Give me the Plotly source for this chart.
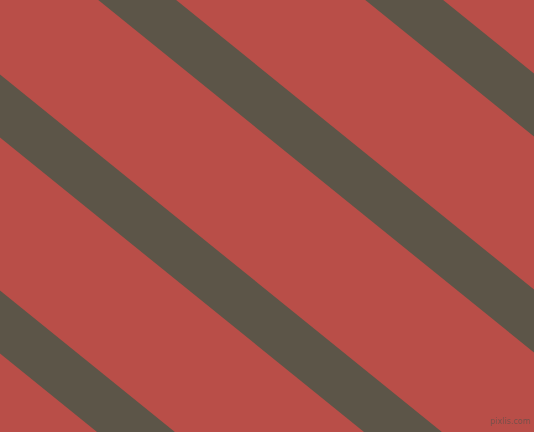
import plotly.graph_objects as go

# picture size in pixels, stripes run parallel to the diagonal
width = 534
height = 432
slope = height / width

# where each dark band crosses the left edge (its middle), and its vertical thickness
band_offsets = [-327, -111, 106, 322]
band_thickness = 63

red = '#B94E48'
dark = '#5C5548'

fig = go.Figure()

for c in band_offsets:
    top = c - band_thickness / 2
    bottom = c + band_thickness / 2
    xs = [-60, width + 60, width + 60, -60, -60]
    ys = [slope * xs[0] + top, slope * xs[1] + top,
          slope * xs[2] + bottom, slope * xs[3] + bottom,
          slope * xs[4] + top]
    fig.add_trace(go.Scatter(x=xs, y=ys, mode='lines', fill='toself',
                             fillcolor=dark, line=dict(width=0, color=dark),
                             hoverinfo='skip', showlegend=False))

fig.add_annotation(x=510, y=421, text='pixlis.com', showarrow=False,
                   font=dict(family='DejaVu Sans', size=8, color='rgba(95,80,75,0.75)'))

fig.update_xaxes(range=[0, width], visible=False, fixedrange=True)
fig.update_yaxes(range=[height, 0], visible=False, fixedrange=True)
fig.update_layout(width=width, height=height,
                  margin=dict(l=0, r=0, t=0, b=0),
                  plot_bgcolor=red, paper_bgcolor=red)

# drop the browser's default page margin so the picture fills the window
fig.write_html('out.html', config={'displayModeBar': False},
               post_script="document.body.style.margin='0';"
                           "document.body.style.overflow='hidden';"
                           "document.body.style.background='" + red + "';")
